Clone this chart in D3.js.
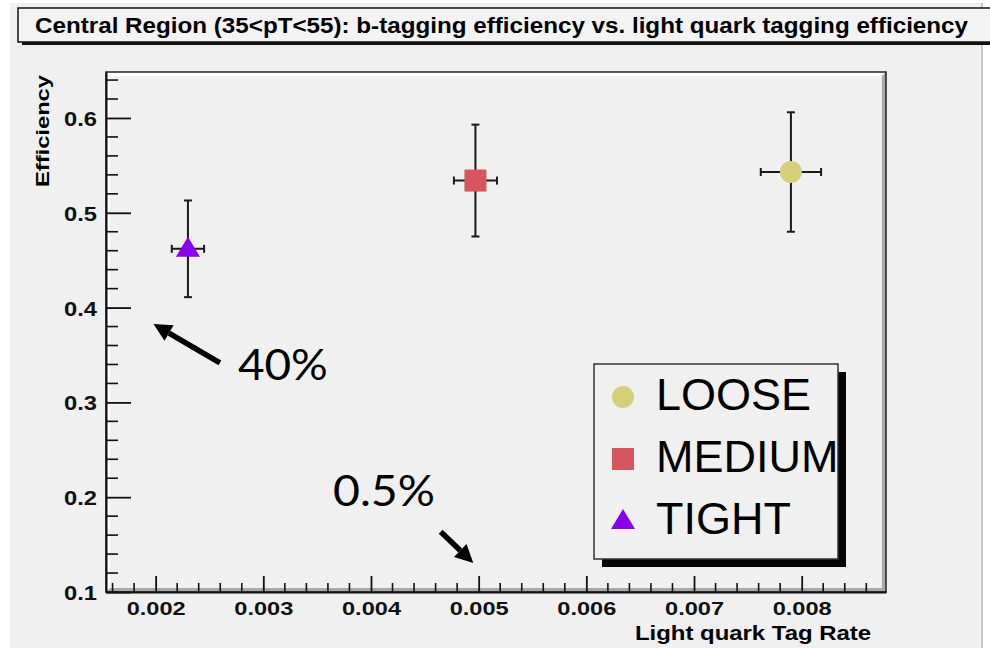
<!DOCTYPE html>
<html>
<head>
<meta charset="utf-8">
<script src="https://cdn.jsdelivr.net/npm/d3@7"></script>
<style>
  html, body { margin: 0; padding: 0; background: #ffffff; }
  svg { display: block; }
</style>
</head>
<body>
<svg id="chart" width="990" height="650"></svg>
<script>
// Working points of the b-tagger (central region, 35 < pT < 55)
const workingPoints = ["LOOSE", "MEDIUM", "TIGHT"];
const tagRate       = [0.0079, 0.00497, 0.0023];     // light quark tag rate
const tagRateErr    = [0.00028, 0.0002, 0.00015];
const efficiency    = [0.543, 0.534, 0.462];         // b-tagging efficiency
const efficiencyErr = [0.063, 0.059, 0.051];
const markerColors  = ["#d4cf78", "#d5565e", "#8a00ee"];
const markerShapes  = ["circle", "square", "triangle"];

const xTickValues = [0.002, 0.003, 0.004, 0.005, 0.006, 0.007, 0.008];
const yTickValues = [0.1, 0.2, 0.3, 0.4, 0.5, 0.6];
const xDomain = [0.001539, 0.008783];
const yDomain = [0.1, 0.6485];

const titleText = "Central Region (35<pT<55): b-tagging efficiency vs. light quark tagging  efficiency";
const xTitle = "Light quark Tag Rate";
const yTitle = "Efficiency";

// Hand-written notes with arrows (data coordinates)
const notes = [
  { text: "40%",  tx: 0.002764, ty: 0.3236, x1: 0.002597, y1: 0.3416, x2: 0.00198, y2: 0.3827, width: 90 },
  { text: "0.5%", tx: 0.003647, ty: 0.1907, x1: 0.004647, y1: 0.1636, x2: 0.00495, y2: 0.1306, width: 102 }
];

const svg = d3.select("#chart");
const frame = { left: 106, top: 72, right: 886, bottom: 592 };
const x = d3.scaleLinear().domain(xDomain).range([frame.left, frame.right]);
const y = d3.scaleLinear().domain(yDomain).range([frame.bottom, frame.top]);
const labelFont = "'Liberation Sans', Arial, Helvetica, sans-serif";

// Canvas background
svg.append("rect").attr("x", 10).attr("y", 3).attr("width", 972).attr("height", 645)
  .attr("fill", "#f0f0f0");
svg.append("line").attr("x1", 982).attr("x2", 982).attr("y1", 3).attr("y2", 648)
  .attr("stroke", "#b8b8b8").attr("stroke-width", 1.5);

// Title box with drop shadow
svg.append("rect").attr("x", 22).attr("y", 11).attr("width", 980).attr("height", 34).attr("fill", "#111");
svg.append("rect").attr("x", 18).attr("y", 8).attr("width", 980).attr("height", 34)
  .attr("fill", "#f3f3f3").attr("stroke", "#111").attr("stroke-width", 1.5);
svg.append("text").attr("x", 35).attr("y", 33)
  .attr("font-family", labelFont).attr("font-weight", "bold").attr("font-size", 22.5)
  .attr("textLength", 933).attr("lengthAdjust", "spacingAndGlyphs")
  .text(titleText);

// Frame with raised bevel
const b = 4;
const L = frame.left, T = frame.top, R = frame.right, B = frame.bottom;
svg.append("rect").attr("x", L).attr("y", T).attr("width", R - L).attr("height", B - T).attr("fill", "#f0f0f0");
svg.append("polygon").attr("fill", "#ffffff")
  .attr("points", [[L, T], [R, T], [R - b, T + b], [L + b, T + b], [L + b, B - b], [L, B]].join(" "));
svg.append("polygon").attr("fill", "#a9a9a9")
  .attr("points", [[R, T], [R, B], [L, B], [L + b, B - b], [R - b, B - b], [R - b, T + b]].join(" "));
svg.append("rect").attr("x", L).attr("y", T).attr("width", R - L).attr("height", B - T)
  .attr("fill", "none").attr("stroke", "#222").attr("stroke-width", 1.5);

// Axes: major ticks from the axis generators, minor ticks from sub-divisions
const xAxis = d3.axisBottom(x).tickValues(xTickValues).tickSize(-16).tickSizeOuter(0)
  .tickFormat(d3.format(".3f")).tickPadding(7);
const gx = svg.append("g").attr("transform", `translate(0,${B})`).call(xAxis);
gx.select(".domain").attr("stroke", "#111").attr("stroke-width", 2);
gx.selectAll(".tick line").attr("stroke", "#111").attr("stroke-width", 1.8);
gx.selectAll(".tick text")
  .attr("font-family", labelFont).attr("font-weight", "bold").attr("font-size", 19)
  .attr("fill", "#111").attr("y", 23).attr("dy", 0)
  .attr("textLength", 59).attr("lengthAdjust", "spacingAndGlyphs");

const xMinor = d3.range(0.0016, xDomain[1], 0.0002).filter(v => Math.abs(v / 0.001 - Math.round(v / 0.001)) > 0.01);
svg.append("g").selectAll("line").data(xMinor).join("line")
  .attr("x1", d => x(d)).attr("x2", d => x(d)).attr("y1", B).attr("y2", B - 9)
  .attr("stroke", "#111").attr("stroke-width", 1.6);

const yAxis = d3.axisLeft(y).tickValues(yTickValues).tickSize(-25).tickSizeOuter(0)
  .tickFormat(d3.format(".1f")).tickPadding(9);
const gy = svg.append("g").attr("transform", `translate(${L},0)`).call(yAxis);
gy.select(".domain").attr("stroke", "#111").attr("stroke-width", 2);
gy.selectAll(".tick line").attr("stroke", "#111").attr("stroke-width", 1.8);
gy.selectAll(".tick text")
  .attr("font-family", labelFont).attr("font-weight", "bold").attr("font-size", 21)
  .attr("fill", "#111").attr("x", -9).attr("dy", "0.36em")
  .attr("textLength", 33).attr("lengthAdjust", "spacingAndGlyphs");

const yMinor = d3.range(0.12, yDomain[1], 0.02).filter(v => Math.abs(v * 10 - Math.round(v * 10)) > 0.01);
svg.append("g").selectAll("line").data(yMinor).join("line")
  .attr("x1", L).attr("x2", L + 12).attr("y1", d => y(d)).attr("y2", d => y(d))
  .attr("stroke", "#111").attr("stroke-width", 1.6);

// Axis titles
svg.append("text").attr("transform", `translate(49,${T + 3}) rotate(-90)`)
  .attr("text-anchor", "end")
  .attr("font-family", labelFont).attr("font-weight", "bold").attr("font-size", 19)
  .attr("textLength", 112).attr("lengthAdjust", "spacingAndGlyphs")
  .text(yTitle);
svg.append("text").attr("x", 871).attr("y", 640).attr("text-anchor", "end")
  .attr("font-family", labelFont).attr("font-weight", "bold").attr("font-size", 20)
  .attr("textLength", 236).attr("lengthAdjust", "spacingAndGlyphs")
  .text(xTitle);

// Marker shapes
const markerPath = {
  circle: d3.symbol(d3.symbolCircle, Math.PI * 11 * 11),
  square: d3.symbol(d3.symbolSquare, 22 * 22),
  triangle: () => "M0,-12L12,8L-12,8Z"
};

// Error bars and markers
const pts = workingPoints.map((name, i) => ({
  name, x: tagRate[i], ex: tagRateErr[i], y: efficiency[i], ey: efficiencyErr[i],
  color: markerColors[i], shape: markerShapes[i]
}));
const cap = 4;
const eb = svg.append("g").attr("stroke", "#1a1a1a").attr("stroke-width", 2);
pts.forEach(p => {
  const cx = x(p.x), cy = y(p.y);
  const yt = y(p.y + p.ey), yb = y(p.y - p.ey);
  const xl = x(p.x - p.ex), xr = x(p.x + p.ex);
  eb.append("line").attr("x1", cx).attr("x2", cx).attr("y1", yt).attr("y2", yb);
  eb.append("line").attr("x1", xl).attr("x2", xr).attr("y1", cy).attr("y2", cy);
  eb.append("line").attr("x1", cx - cap).attr("x2", cx + cap).attr("y1", yt).attr("y2", yt);
  eb.append("line").attr("x1", cx - cap).attr("x2", cx + cap).attr("y1", yb).attr("y2", yb);
  eb.append("line").attr("x1", xl).attr("x2", xl).attr("y1", cy - cap).attr("y2", cy + cap);
  eb.append("line").attr("x1", xr).attr("x2", xr).attr("y1", cy - cap).attr("y2", cy + cap);
});
svg.append("g").selectAll("path").data(pts).join("path")
  .attr("transform", d => `translate(${x(d.x)},${y(d.y)})`)
  .attr("d", d => markerPath[d.shape]())
  .attr("fill", d => d.color);

// Legend with shadow
const lg = { x: 594, y: 364, w: 244, h: 195 };
svg.append("rect").attr("x", lg.x + 8).attr("y", lg.y + 8).attr("width", lg.w).attr("height", lg.h).attr("fill", "#050505");
svg.append("rect").attr("x", lg.x).attr("y", lg.y).attr("width", lg.w).attr("height", lg.h)
  .attr("fill", "#f0f0f0").attr("stroke", "#333").attr("stroke-width", 1.5);
const legendRows = svg.append("g").selectAll("g").data(pts).join("g")
  .attr("transform", (d, i) => `translate(${lg.x},${lg.y + 33 + i * 62})`);
legendRows.append("path")
  .attr("transform", "translate(29,0)")
  .attr("d", d => markerPath[d.shape]())
  .attr("fill", d => d.color);
legendRows.append("text")
  .attr("x", 62).attr("y", 13)
  .attr("font-family", labelFont).attr("font-size", 45)
  .attr("fill", "#000")
  .text(d => d.name);

// Notes with arrows
const noteFont = "Lato, 'Open Sans', 'Noto Sans', sans-serif";
notes.forEach(n => {
  const x1 = x(n.x1), y1 = y(n.y1), x2 = x(n.x2), y2 = y(n.y2);
  const ang = Math.atan2(y2 - y1, x2 - x1);
  const hl = 18, hw = 9;
  const bx = x2 - hl * Math.cos(ang), by = y2 - hl * Math.sin(ang);
  svg.append("line").attr("x1", x1).attr("y1", y1).attr("x2", bx).attr("y2", by)
    .attr("stroke", "#000").attr("stroke-width", 5.5);
  const px = -Math.sin(ang), py = Math.cos(ang);
  svg.append("polygon").attr("fill", "#000")
    .attr("points", [[x2, y2], [bx + hw * px, by + hw * py], [bx - hw * px, by - hw * py]].join(" "));
  svg.append("text").attr("x", x(n.tx)).attr("y", y(n.ty))
    .attr("font-family", noteFont).attr("font-size", 43).attr("fill", "#000")
    .attr("textLength", n.width).attr("lengthAdjust", "spacingAndGlyphs")
    .text(n.text);
});
</script>
</body>
</html>
